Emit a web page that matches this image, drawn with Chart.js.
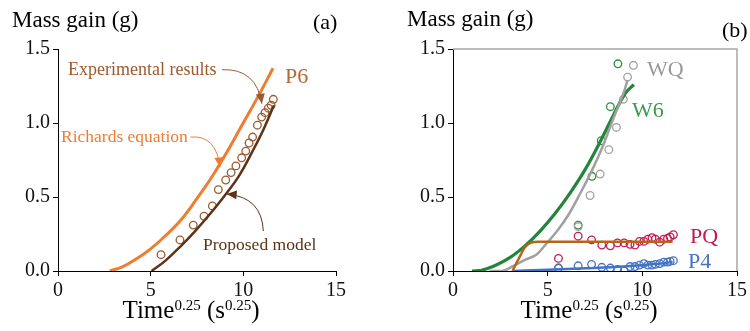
<!DOCTYPE html>
<html>
<head>
<meta charset="utf-8">
<script src="https://cdn.jsdelivr.net/npm/chart.js@4"></script>
<style>
  html, body { margin: 0; padding: 0; background: #fff; }
  #wrap { position: relative; width: 750px; height: 331px; }
  .pane { position: absolute; top: 0; width: 375px; height: 331px; }
</style>
</head>
<body>
<div id="wrap">
  <div class="pane" style="left:0"><canvas id="chartA"></canvas></div>
  <div class="pane" style="left:375px"><canvas id="chartB"></canvas></div>
</div>
<script>
// ---- panel (a): P6 ----
const richardsX = [2.8, 3.5, 4.2, 5.0, 5.9, 6.7, 7.5, 8.3, 9.1, 9.9, 10.8, 11.6];
const richardsY = [0, 0.03, 0.08, 0.15, 0.25, 0.355, 0.49, 0.635, 0.8, 0.98, 1.18, 1.37];
const modelX = [5.05, 5.8, 6.6, 7.4, 8.2, 9.0, 9.8, 10.5, 11.1, 11.65];
const modelY = [0, 0.07, 0.165, 0.27, 0.385, 0.51, 0.65, 0.81, 0.96, 1.12];
const expX = [5.56, 6.58, 7.3, 7.88, 8.33, 8.65, 9.05, 9.34, 9.6, 9.91, 10.13, 10.31, 10.5, 10.76, 10.99, 11.17, 11.35, 11.5, 11.62];
const expY = [0.11, 0.21, 0.31, 0.37, 0.44, 0.55, 0.615, 0.665, 0.71, 0.765, 0.81, 0.865, 0.905, 0.985, 1.04, 1.07, 1.1, 1.12, 1.16];

// ---- panel (b): WQ, W6, PQ, P4 ----
const w6LineX = [1.0, 1.5, 2.2, 3.0, 3.8, 4.6, 5.4, 6.2, 7.0, 7.8, 8.5, 9.1, 9.55];
const w6LineY = [0, 0.005, 0.035, 0.09, 0.17, 0.27, 0.39, 0.53, 0.69, 0.88, 1.06, 1.2, 1.26];
const wqLineX = [1.93, 2.6, 3.2, 3.8, 4.4, 4.9, 5.5, 6.1, 6.7, 7.3, 7.9, 8.5, 9.0, 9.22];
const wqLineY = [0, 0, 0.035, 0.075, 0.11, 0.18, 0.27, 0.38, 0.52, 0.67, 0.84, 1.04, 1.2, 1.29];
const pqLineX = [3.14, 3.5, 3.8, 4.1, 4.5, 11.6];
const pqLineY = [0, 0.09, 0.16, 0.19, 0.198, 0.198];
const p4LineX = [3.2, 5.0, 7.0, 9.0, 10.5, 11.6];
const p4LineY = [0, 0.008, 0.018, 0.03, 0.045, 0.06];

const w6PtsX = [5.57, 6.61, 7.34, 7.83, 8.31, 8.71];
const w6PtsY = [0.02, 0.31, 0.64, 0.88, 1.11, 1.40];
const wqPtsX = [6.61, 7.24, 7.77, 8.23, 8.63, 9.0, 9.22, 9.53];
const wqPtsY = [0.3, 0.51, 0.655, 0.82, 0.97, 1.16, 1.31, 1.39];
const testX = [5.57, 6.61, 7.32, 7.86, 8.31, 8.69, 9.04, 9.35, 9.61, 9.85, 10.08, 10.29, 10.51, 10.69, 10.92, 11.13, 11.33, 11.47, 11.64];
const pqPtsY = [0.085, 0.235, 0.21, 0.175, 0.17, 0.19, 0.19, 0.18, 0.175, 0.2, 0.2, 0.215, 0.225, 0.215, 0.195, 0.215, 0.22, 0.23, 0.245];
const p4PtsY = [0.02, 0.035, 0.045, 0.025, 0.02, 0.01, 0.0, 0.03, 0.03, 0.04, 0.05, 0.04, 0.04, 0.045, 0.05, 0.06, 0.06, 0.065, 0.07];

const xTicks = [0, 5, 10, 15];
const yTicks = [0, 0.5, 1.0, 1.5];

const SERIF = "'Liberation Serif', 'Times New Roman', serif";
Chart.defaults.font.family = SERIF;

const pts = (xs, ys) => xs.map((x, i) => ({x: x, y: ys[i]}));

const lineSet = (xs, ys, color, width, mono) => ({
  data: pts(xs, ys),
  showLine: true,
  borderColor: color,
  borderWidth: width,
  pointRadius: 0,
  tension: 0.4,
  cubicInterpolationMode: mono ? 'monotone' : 'default',
});

const circleSet = (xs, ys, color) => ({
  data: pts(xs, ys),
  showLine: false,
  pointRadius: 3.8,
  pointBorderWidth: 1.3,
  pointBorderColor: color,
  pointBackgroundColor: 'rgba(0,0,0,0)',
});

const scales = yWidth => ({
  x: {
    type: 'linear', min: 0, max: 15,
    afterBuildTicks: s => { s.ticks = xTicks.map(v => ({value: v})); },
    afterFit: s => { s.height = 60; },
    ticks: {font: {size: 20}, color: '#111', padding: 3},
    grid: {drawOnChartArea: false, drawTicks: true, tickLength: 5, color: '#000'},
    border: {color: '#000', width: 1},
  },
  y: {
    type: 'linear', min: 0, max: 1.5,
    afterBuildTicks: s => { s.ticks = yTicks.map(v => ({value: v})); },
    afterFit: s => { s.width = yWidth; },
    ticks: {font: {size: 20}, color: '#111', padding: 3, callback: v => Number(v).toFixed(1)},
    grid: {drawOnChartArea: false, drawTicks: true, tickLength: 5, color: '#000'},
    border: {color: '#000', width: 1},
  },
});

function text(ctx, str, x, y, size, color, align) {
  ctx.font = size + 'px ' + SERIF;
  ctx.fillStyle = color;
  ctx.textAlign = align || 'left';
  ctx.textBaseline = 'alphabetic';
  ctx.fillText(str, x, y);
}

function xTitle(chart) {
  const ctx = chart.ctx, a = chart.chartArea;
  const parts = [['Time', 25, 0], ['0.25', 15, -8], [' (s', 25, 0], ['0.25', 15, -8], [')', 25, 0]];
  let total = 0;
  parts.forEach(p => { ctx.font = p[1] + 'px ' + SERIF; total += ctx.measureText(p[0]).width; });
  let x = (a.left + a.right) / 2 - 6 - total / 2;
  parts.forEach(p => {
    text(ctx, p[0], x, 318 + p[2], p[1], '#000');
    ctx.font = p[1] + 'px ' + SERIF;
    x += ctx.measureText(p[0]).width;
  });
}

// curved leader with a filled arrowhead, given in data units
function arrow(chart, from, ctrl, to, color) {
  const ctx = chart.ctx, sx = chart.scales.x, sy = chart.scales.y;
  const P = p => [sx.getPixelForValue(p[0]), sy.getPixelForValue(p[1])];
  const a = P(from), c = P(ctrl), b = P(to);
  ctx.save();
  ctx.strokeStyle = color; ctx.fillStyle = color; ctx.lineWidth = 1;
  ctx.beginPath(); ctx.moveTo(a[0], a[1]); ctx.quadraticCurveTo(c[0], c[1], b[0], b[1]); ctx.stroke();
  const ang = Math.atan2(b[1] - c[1], b[0] - c[0]);
  const L = 10, W = 4.5;
  ctx.beginPath();
  ctx.moveTo(b[0], b[1]);
  ctx.lineTo(b[0] - L * Math.cos(ang) + W * Math.sin(ang), b[1] - L * Math.sin(ang) - W * Math.cos(ang));
  ctx.lineTo(b[0] - L * Math.cos(ang) - W * Math.sin(ang), b[1] - L * Math.sin(ang) + W * Math.cos(ang));
  ctx.closePath(); ctx.fill();
  ctx.restore();
}

const decorA = {
  id: 'decorA',
  afterDraw(chart) {
    const ctx = chart.ctx;
    text(ctx, 'Mass gain (g)', 12, 27, 23, '#000');
    text(ctx, '(a)', 313, 29, 22, '#000');
    text(ctx, 'P6', 285, 83, 22, '#b8672e');
    text(ctx, 'Experimental results', 68, 75, 18, '#9c5a2e');
    text(ctx, 'Richards equation', 61, 142, 17.5, '#ed7d31');
    text(ctx, 'Proposed model', 203, 250, 17.5, '#5c3317');
    arrow(chart, [8.85, 1.36], [10.7, 1.37], [11.0, 1.13], '#9c5a2e');
    arrow(chart, [7.15, 0.905], [8.55, 0.92], [8.74, 0.70], '#ed7d31');
    arrow(chart, [11.08, 0.27], [11.0, 0.5], [9.1, 0.52], '#5c3317');
    xTitle(chart);
  }
};

const decorB = {
  id: 'decorB',
  beforeDatasetsDraw(chart) {
    const ctx = chart.ctx, a = chart.chartArea;
    ctx.save();
    ctx.strokeStyle = '#a6a6a6'; ctx.lineWidth = 1.5;
    ctx.beginPath();
    ctx.moveTo(a.left, a.top); ctx.lineTo(a.right, a.top); ctx.lineTo(a.right, a.bottom);
    ctx.stroke();
    ctx.restore();
  },
  afterDraw(chart) {
    const ctx = chart.ctx;
    text(ctx, 'Mass gain (g)', 32, 26, 23, '#000');
    text(ctx, '(b)', 347, 37, 22, '#000');
    text(ctx, 'WQ', 272, 76, 22, '#999999');
    text(ctx, 'W6', 257, 117, 22, '#3a9a4c');
    text(ctx, 'PQ', 315, 243, 22, '#c8174f');
    text(ctx, 'P4', 313, 268, 22, '#4472c4');
    xTitle(chart);
  }
};

const baseOptions = (yWidth, rightPad) => ({
  responsive: true,
  maintainAspectRatio: false,
  animation: false,
  layout: {padding: {top: 49, left: 0, right: rightPad, bottom: 0}},
  plugins: {legend: {display: false}, tooltip: {enabled: false}},
  scales: scales(yWidth),
});

new Chart(document.getElementById('chartA'), {
  type: 'scatter',
  data: {
    datasets: [
      lineSet(richardsX, richardsY, '#ed7d31', 3),
      lineSet(modelX, modelY, '#5c3317', 2.5),
      circleSet(expX, expY, '#9c5a2e'),
    ],
  },
  options: baseOptions(58, 39),
  plugins: [decorA],
});

new Chart(document.getElementById('chartB'), {
  type: 'scatter',
  data: {
    datasets: [
      lineSet(pqLineX, pqLineY, '#b5651d', 2.5, true),
      lineSet(p4LineX, p4LineY, '#4472c4', 2.5, true),
      lineSet(wqLineX, wqLineY, '#a0a0a0', 2.5),
      lineSet(w6LineX, w6LineY, '#23853a', 3.2),
      circleSet(testX, pqPtsY, '#c8174f'),
      circleSet(testX, p4PtsY, '#4472c4'),
      circleSet(wqPtsX, wqPtsY, '#a0a0a0'),
      circleSet(w6PtsX, w6PtsY, '#2e8b40'),
    ],
  },
  options: baseOptions(78, 8),
  plugins: [decorB],
});
</script>
</body>
</html>
